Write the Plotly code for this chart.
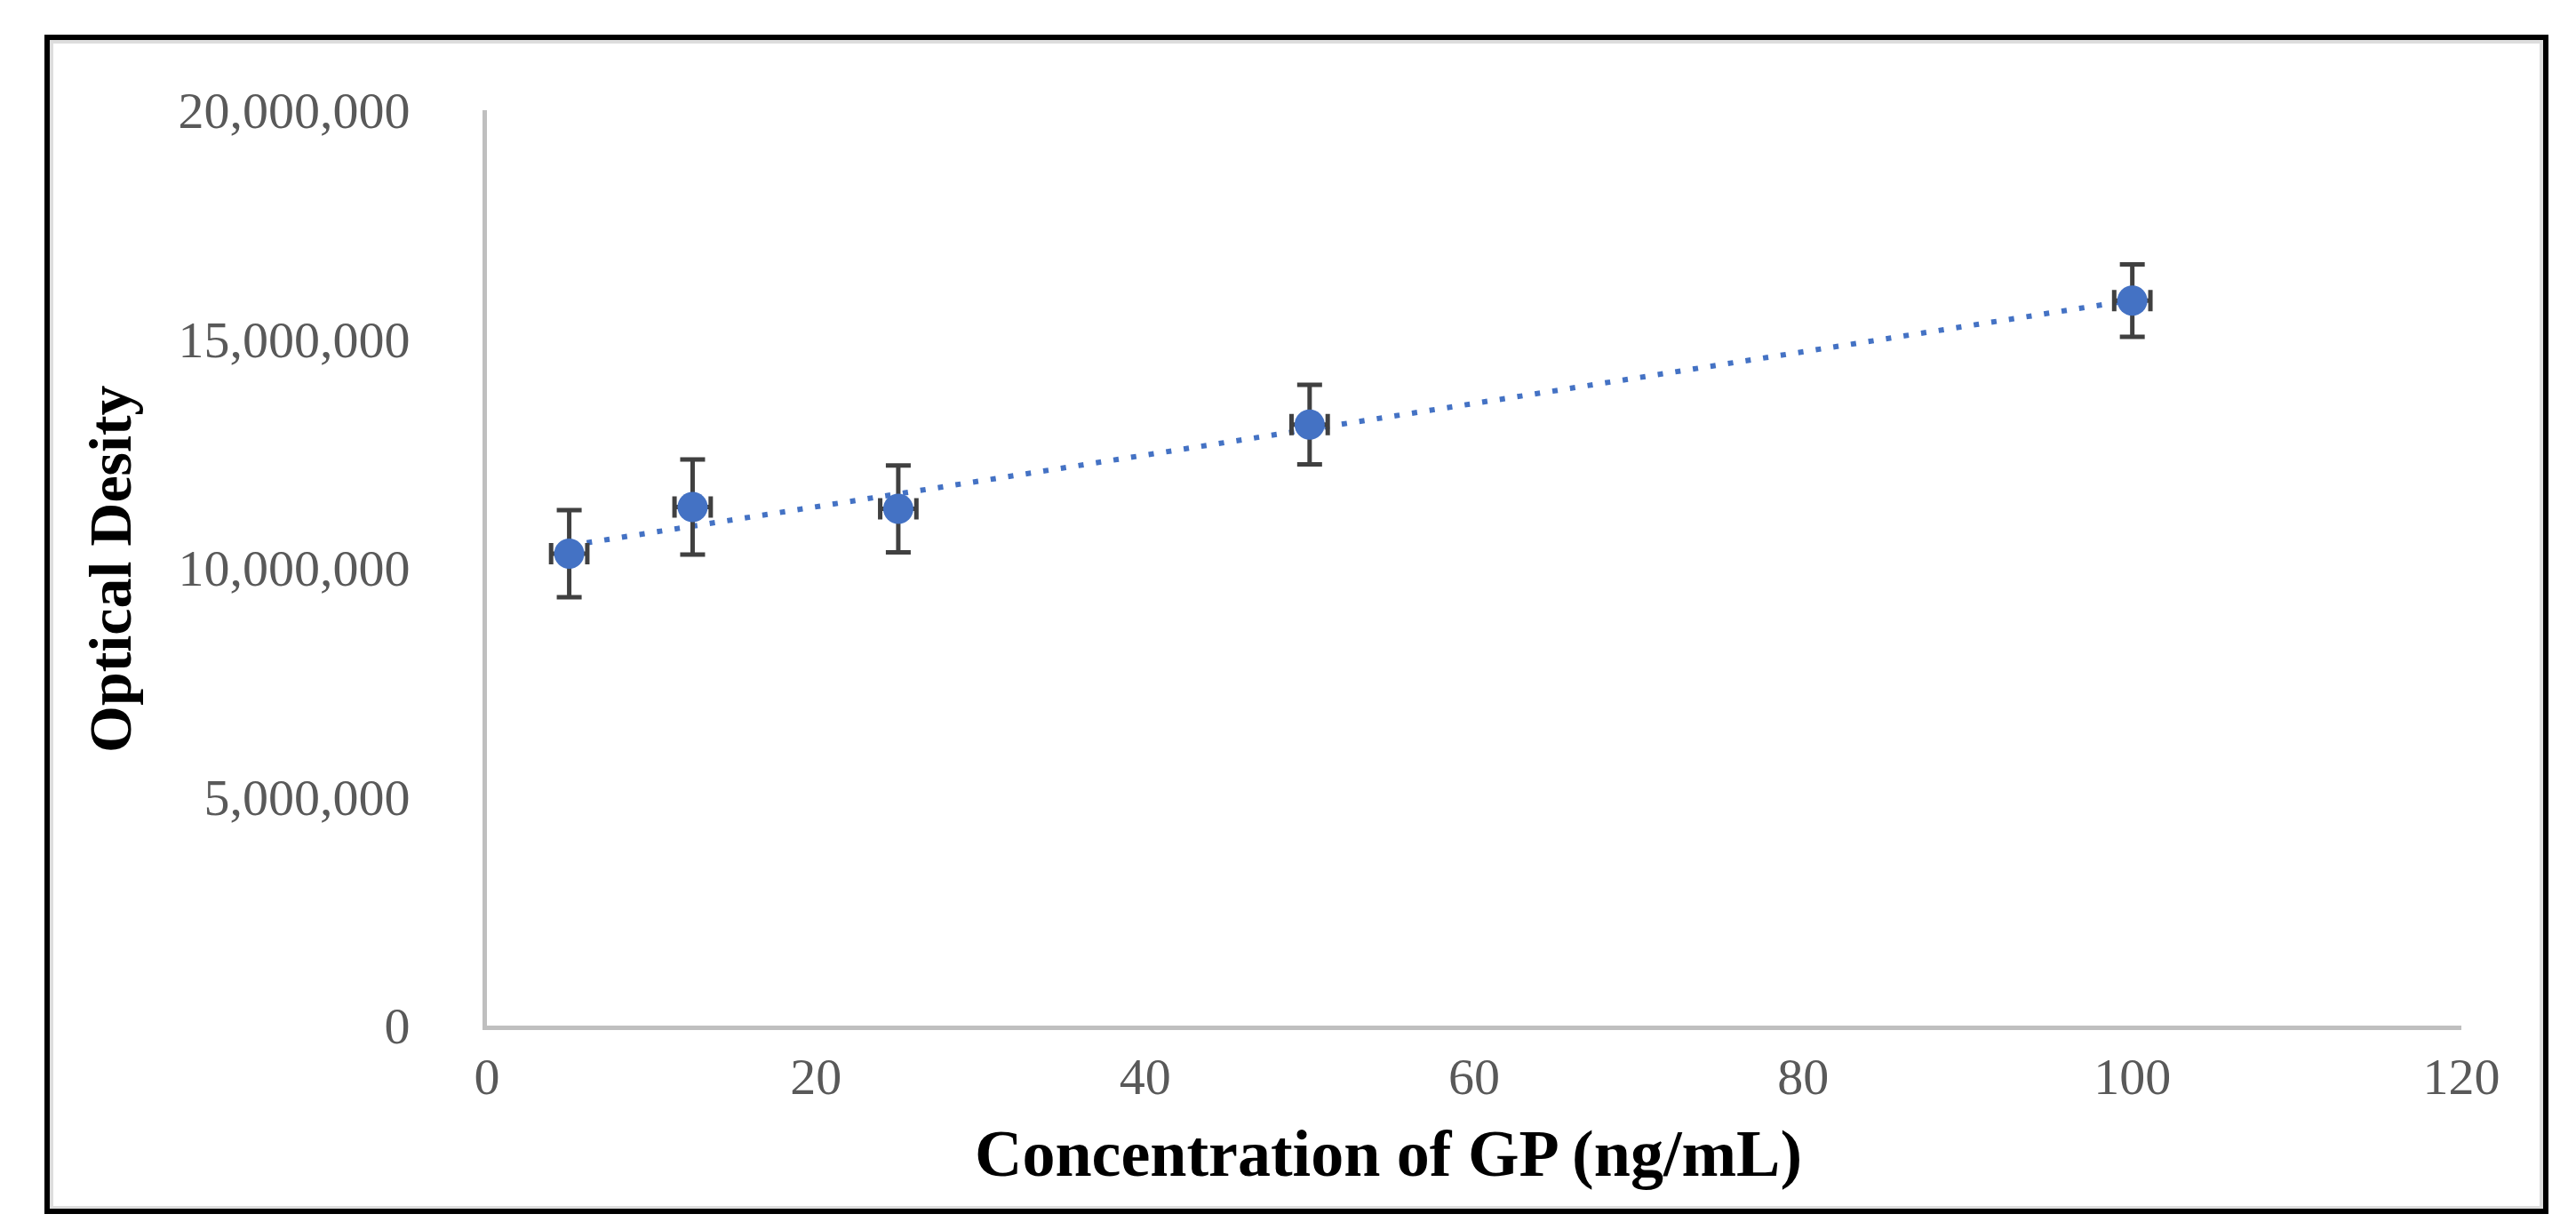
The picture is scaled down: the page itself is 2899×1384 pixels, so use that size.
import numpy as np
import plotly.graph_objects as go

# Data
concentration = [5, 12.5, 25, 50, 100]                     # ng/mL
optical_density = [10310000, 11330000, 11290000, 13130000, 15840000]
od_error = [950000, 1040000, 950000, 870000, 790000]
conc_error = [1.1, 1.1, 1.1, 1.1, 1.1]

x_ticks = [0, 20, 40, 60, 80, 100, 120]
y_ticks = [0, 5000000, 10000000, 15000000, 20000000]
y_tick_text = ["0", "5,000,000", "10,000,000", "15,000,000", "20,000,000"]

x_title = "Concentration of GP (ng/mL)"
y_title = "Optical Desity"

BLUE = "#4472C4"
ERR = "#404040"
AXIS = "#BFBFBF"
TICKC = "#595959"
FONT = "Liberation Serif"

# linear trendline (least squares, as in the original spreadsheet chart)
slope, intercept = np.polyfit(concentration, optical_density, 1)
trend_x = [min(concentration), max(concentration)]
trend_y = [slope * v + intercept for v in trend_x]

fig = go.Figure()
fig.add_trace(go.Scatter(
    x=trend_x, y=trend_y, mode="lines",
    line=dict(color=BLUE, width=6, dash="6px,14px"),
    hoverinfo="skip", showlegend=False,
))
fig.add_trace(go.Scatter(
    x=concentration, y=optical_density, mode="markers",
    marker=dict(color=BLUE, size=34, line=dict(width=0)),
    error_y=dict(type="data", array=od_error, visible=True,
                 color=ERR, thickness=5, width=14),
    error_x=dict(type="data", array=conc_error, visible=True,
                 color=ERR, thickness=5, width=12),
    showlegend=False,
))

W, H = 2899, 1384
L, R, T, B = 540, 137, 116, 238

fig.update_layout(
    width=W, height=H,
    margin=dict(l=L, r=R, t=T, b=B, pad=0),
    paper_bgcolor="white", plot_bgcolor="white",
    font=dict(family=FONT, color=TICKC, size=58),
    showlegend=False,
    xaxis=dict(
        range=[0, 120], tickmode="array", tickvals=x_ticks,
        ticktext=[str(v) for v in x_ticks],
        showgrid=False, zeroline=False,
        showline=True, linecolor=AXIS, linewidth=5,
        ticks="", ticklabelstandoff=2,
        tickfont=dict(family=FONT, size=58, color=TICKC),
    ),
    yaxis=dict(
        range=[0, 20000000], tickmode="array", tickvals=y_ticks,
        ticktext=y_tick_text,
        showgrid=False, zeroline=False,
        showline=True, linecolor=AXIS, linewidth=5,
        ticks="", ticklabelstandoff=70,
        tickfont=dict(family=FONT, size=58, color=TICKC),
    ),
    annotations=[
        dict(text="<b>" + x_title + "</b>", xref="paper", yref="paper",
             x=(1554 - L) / (W - L - R), y=(1146 - 1290) / (H - T - B),
             xanchor="center", yanchor="middle", showarrow=False,
             font=dict(family=FONT, size=74, color="black")),
        dict(text="<b>" + y_title + "</b>", xref="paper", yref="paper",
             x=(116 - L) / (W - L - R), y=(1146 - 632) / (H - T - B),
             xanchor="center", yanchor="middle", textangle=-90, showarrow=False,
             font=dict(family=FONT, size=68, color="black")),
    ],
    shapes=[
        dict(type="rect", xref="paper", yref="paper",
             x0=(50 - L) / (W - L - R), x1=(2852 - L) / (W - L - R),
             y0=(1146 - 1351) / (H - T - B), y1=(1146 - 39) / (H - T - B),
             line=dict(color="#DDDDDD", width=4), layer="below"),
        dict(type="rect", xref="paper", yref="paper",
             x0=(45 - L) / (W - L - R), x1=(2857 - L) / (W - L - R),
             y0=(1146 - 1355) / (H - T - B), y1=(1146 - 34) / (H - T - B),
             line=dict(color="black", width=6), layer="above"),
    ],
)

fig.write_html("out.html")
